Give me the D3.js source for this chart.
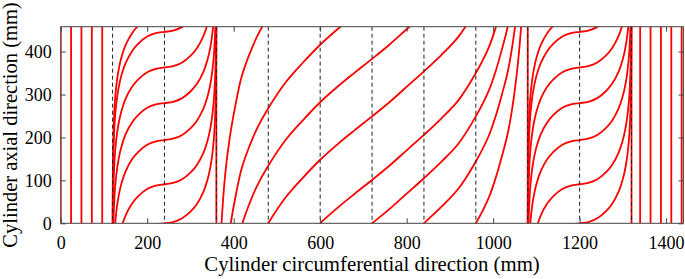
<!DOCTYPE html>
<html>
<head>
<meta charset="utf-8">
<script src="https://cdn.jsdelivr.net/npm/d3@7"></script>
<style>
  body { margin: 0; background: #fff; }
  svg text { font-family: "Liberation Serif", "Times New Roman", serif; fill: #000; }
</style>
</head>
<body>
<svg id="chart" width="685" height="279"></svg>
<script>
// values, in mm
const xTicks = [0, 200, 400, 600, 800, 1000, 1200, 1400];
const yTicks = [0, 100, 200, 300, 400];
const dashedX = [120, 240, 360, 480, 600, 720, 840, 960, 1080, 1200, 1320];
const axialX = [0, 24, 48, 72, 96, 360, 1080, 1320, 1340, 1364, 1388, 1412, 1436];

// S-shaped path in the two hoop bands: [offset from band centre, axial rise]
const sShape = [
  [-119.9, -507], [-119.7, -423], [-119.3, -358], [-119, -331], [-118.5, -300], [-118, -278],
  [-117.5, -261], [-116.5, -236], [-115, -208], [-113, -183], [-110, -156], [-106, -130],
  [-100, -103], [-90, -73], [-75, -45], [-60, -27], [-40, -11], [-20, -3], [0, 0],
  [20, 3], [40, 11], [60, 27], [75, 45], [90, 73], [100, 103], [106, 130], [110, 156],
  [113, 183], [115, 208], [116.5, 236], [117.5, 261], [118, 278], [118.5, 300], [119, 331],
  [119.3, 358], [119.7, 423], [119.9, 507]
];
const sCentres = [240, 1200];
const sLevels = [0, 91, 194, 280, 363, 446, 488];

// path across the middle band: [circumferential, axial]
const midShape = [
  [361, -1050], [363.5, -880], [367, -750], [372, -630], [380, -520], [391, -430],
  [405, -350], [418, -290], [435, -240], [455, -193], [480, -148], [520, -88],
  [560, -42], [600, 0], [640, 36], [680, 69], [720, 101], [760, 134], [800, 170],
  [840, 206], [880, 244], [920, 287], [960, 350], [990, 410], [1006, 456],
  [1020, 505], [1035, 565], [1051, 667], [1065, 810], [1072, 936], [1076, 1068],
  [1078.5, 1245]
];
const midShifts = [630, 416, 282, 148, 0, -101, -206, -350];

const margin = { top: 26.7, left: 60.7 },
      width = 622.7,
      height = 196.6;

const svg = d3.select("#chart");
const g = svg.append("g").attr("transform", `translate(${margin.left},${margin.top})`);

const x = d3.scaleLinear().domain([0, 1440]).range([0, width]);
const y = d3.scaleLinear().domain([0, 458]).range([height, 0]);

g.append("clipPath").attr("id", "plot-clip")
  .append("rect").attr("width", width).attr("height", height);

const plot = g.append("g").attr("clip-path", "url(#plot-clip)");

const line = d3.line()
  .x(d => x(d[0]))
  .y(d => y(d[1]))
  .curve(d3.curveCatmullRom.alpha(0.5));

// build path sets
const paths = [];
sCentres.forEach(c => {
  sLevels.forEach(p => paths.push(sShape.map(d => [c + d[0], p + d[1]])));
});
midShifts.forEach(s => paths.push(midShape.map(d => [d[0], d[1] + s])));

plot.selectAll(".axial")
  .data(axialX)
  .enter()
  .append("line")
  .attr("class", "axial")
  .attr("x1", d => x(d)).attr("x2", d => x(d))
  .attr("y1", 0).attr("y2", height)
  .attr("stroke", "#ff0000")
  .attr("stroke-width", 1.8);

plot.selectAll(".fibre")
  .data(paths)
  .enter()
  .append("path")
  .attr("class", "fibre")
  .attr("d", line)
  .attr("fill", "none")
  .attr("stroke", "#ff0000")
  .attr("stroke-width", 1.8);

plot.selectAll(".band")
  .data(dashedX)
  .enter()
  .append("line")
  .attr("class", "band")
  .attr("x1", d => x(d)).attr("x2", d => x(d))
  .attr("y1", 0).attr("y2", height)
  .attr("stroke", "#222")
  .attr("stroke-width", 1)
  .attr("stroke-dasharray", "4,3");

// axes with inward ticks on all four sides
const tickColor = "#444";
const styleAxis = sel => {
  sel.select(".domain").remove();
  sel.selectAll(".tick line").attr("stroke", tickColor);
  sel.selectAll("text").style("font-size", "18px").attr("fill", "#000");
};

g.append("g")
  .attr("transform", `translate(0,${height})`)
  .call(d3.axisBottom(x).tickValues(xTicks).tickSizeInner(-5).tickSizeOuter(0)
    .tickPadding(12.5).tickFormat(d3.format("d")))
  .call(styleAxis);

g.append("g")
  .call(d3.axisTop(x).tickValues(xTicks).tickSizeInner(-5).tickSizeOuter(0).tickFormat(""))
  .call(styleAxis);

g.append("g")
  .call(d3.axisLeft(y).tickValues(yTicks).tickSizeInner(-5).tickSizeOuter(0)
    .tickPadding(9).tickFormat(d3.format("d")))
  .call(styleAxis);

g.append("g")
  .attr("transform", `translate(${width},0)`)
  .call(d3.axisRight(y).tickValues(yTicks).tickSizeInner(-5).tickSizeOuter(0).tickFormat(""))
  .call(styleAxis);

g.append("rect")
  .attr("width", width)
  .attr("height", height)
  .attr("fill", "none")
  .attr("stroke", tickColor)
  .attr("stroke-width", 1);

svg.append("text")
  .attr("x", margin.left + width / 2)
  .attr("y", 271)
  .attr("text-anchor", "middle")
  .style("font-size", "20.8px")
  .text("Cylinder circumferential direction (mm)");

svg.append("text")
  .attr("transform", `translate(17,${margin.top + height / 2}) rotate(-90)`)
  .attr("text-anchor", "middle")
  .style("font-size", "20.5px")
  .text("Cylinder axial direction (mm)");
</script>
</body>
</html>
